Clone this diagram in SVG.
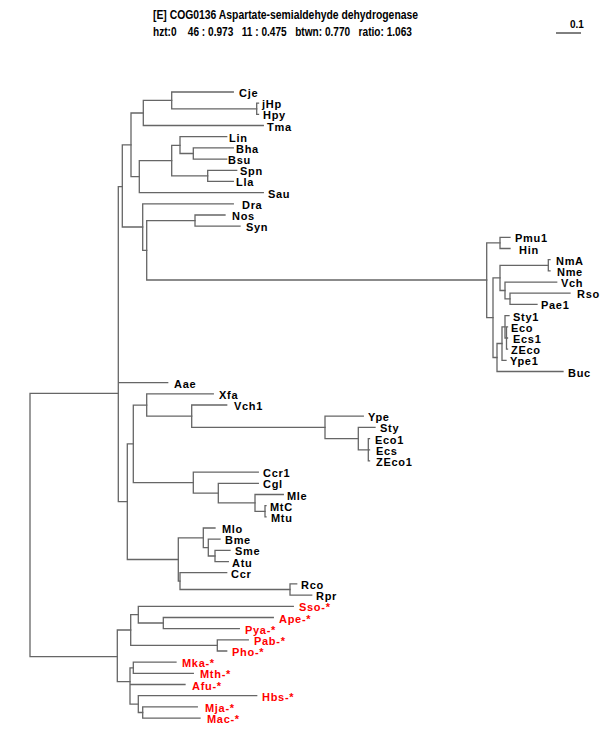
<svg xmlns="http://www.w3.org/2000/svg" width="600" height="750" viewBox="0 0 600 750">
<style>
.e{fill:none;stroke:#666;stroke-width:1.3;stroke-linecap:square}
.t{font-family:"Liberation Sans",Arial,sans-serif;font-weight:bold;font-size:11px;letter-spacing:0.7px;fill:#000}
.r{fill:#ff0000}
.h{font-family:"Liberation Sans",Arial,sans-serif;font-weight:bold;font-size:12.5px;fill:#000}
</style>
<rect width="600" height="750" fill="#fff"/>
<g id="header">
<text class="h" x="153" y="19" textLength="265" lengthAdjust="spacingAndGlyphs">[E] COG0136 Aspartate-semialdehyde dehydrogenase</text>
<text class="h" x="153" y="36" textLength="259" lengthAdjust="spacingAndGlyphs" xml:space="preserve">hzt:0    46 : 0.973   11 : 0.475   btwn: 0.770   ratio: 1.063</text>
</g>
<g id="scale">
<line x1="556" y1="33" x2="581" y2="33" stroke="#000" stroke-width="1"/>
<text class="h" x="570" y="28" style="font-size:10px">0.1</text>
</g>
<g id="connectors" class="e">
<path d="M30,393.3V656.7M30,393.3H118.3M30,656.7H117.3"/>
<path d="M118.3,186.7V501.7M118.3,186.7H122.3M118.3,382.7H167.7M118.3,501.7H127.3"/>
<path d="M122.3,144.8V227M122.3,144.8H131M122.3,227H142.7"/>
<path d="M131,113V176.6M131,113H143.3M131,176.6H139.3"/>
<path d="M143.3,100.4V125.5M143.3,100.4H171.7M143.3,125.5H263.3"/>
<path d="M171.7,92V108.8M171.7,92H233.3M171.7,108.8H256.7"/>
<path d="M256.7,103.2V114.4M256.7,103.2H258.5M256.7,114.4H258.5"/>
<path d="M139.3,160.6V192.6M139.3,160.6H171.7M139.3,192.6H263.3"/>
<path d="M171.7,145.3V175.9M171.7,145.3H180M171.7,175.9H207.7"/>
<path d="M180,136.7V153.5M180,136.7H226.7M180,153.5H193.3"/>
<path d="M193.3,147.9V159.1M193.3,147.9H233.3M193.3,159.1H226.7"/>
<path d="M207.7,170.3V181.4M207.7,170.3H236.7M207.7,181.4H233.3"/>
<path d="M142.7,203.8V250.3M142.7,203.8H233.3M142.7,250.3H146.7"/>
<path d="M146.7,220.6V280M146.7,220.6H195M146.7,280H486.7"/>
<path d="M195,215V226.2M195,215H225M195,226.2H240"/>
<path d="M486.7,242.9V317.7M486.7,242.9H500M486.7,317.7H493"/>
<path d="M500,237.3V248.5M500,237.3H510M500,248.5H510"/>
<path d="M493,277.9V357.5M493,277.9H500M493,357.5H497"/>
<path d="M500,265.3V290.5M500,265.3H548.3M500,290.5H505"/>
<path d="M548.3,259.7V270.9M548.3,259.7H550M548.3,270.9H550"/>
<path d="M505,282.1V298.8M505,282.1H556.7M505,298.8H510"/>
<path d="M510,293.2V304.4M510,293.2H570M510,304.4H537"/>
<path d="M497,343.5V371.5M497,343.5H502M497,371.5H563"/>
<path d="M502,326.8V360.3M502,326.8H505M502,360.3H506"/>
<path d="M505,315.6V338M505,315.6H509M505,338H506.5"/>
<path d="M506.5,326.8V349.1M506.5,326.8H507.5M506.5,338H507.5M506.5,349.1H507.5"/>
<path d="M127.3,443.9V559.5M127.3,443.9H133.3M127.3,559.5H178.3"/>
<path d="M133.3,405.1V482.6M133.3,405.1H146.7M133.3,482.6H193.3"/>
<path d="M146.7,393.9V416.2M146.7,393.9H213.3M146.7,416.2H191.7"/>
<path d="M191.7,405V427.4M191.7,405H226.7M191.7,427.4H325"/>
<path d="M325,416.2V438.6M325,416.2H363.3M325,438.6H358.3"/>
<path d="M358.3,427.4V449.8M358.3,427.4H375M358.3,449.8H368.3"/>
<path d="M368.3,438.6V460.9M368.3,438.6H369.5M368.3,449.8H369.5M368.3,460.9H369.5"/>
<path d="M193.3,472.1V493.1M193.3,472.1H258.3M193.3,493.1H218.3"/>
<path d="M218.3,483.3V502.9M218.3,483.3H258.3M218.3,502.9H255"/>
<path d="M255,494.5V511.3M255,494.5H283.3M255,511.3H265"/>
<path d="M265,505.7V516.8M265,505.7H266M265,516.8H266"/>
<path d="M178.3,537.8V581.1M178.3,537.8H203.3M178.3,581.1H180"/>
<path d="M203.3,528V547.6M203.3,528H215M203.3,547.6H208.3"/>
<path d="M208.3,539.2V556M208.3,539.2H220M208.3,556H215"/>
<path d="M215,550.4V561.6M215,550.4H230M215,561.6H228.3"/>
<path d="M180,572.7V589.5M180,572.7H226.7M180,589.5H290"/>
<path d="M290,583.9V595.1M290,583.9H296.7M290,595.1H311.7"/>
<path d="M117.3,630V681.7M117.3,630H130.7M117.3,681.7H130"/>
<path d="M130.7,614.7V645.4M130.7,614.7H138.3M130.7,645.4H217.3"/>
<path d="M138.3,606.3V623M138.3,606.3H293.3M138.3,623H163.3"/>
<path d="M163.3,617.5V628.6M163.3,617.5H273.3M163.3,628.6H239.3"/>
<path d="M217.3,639.8V651M217.3,639.8H248.3M217.3,651H226.7"/>
<path d="M130,667.8V704.1M130,667.8H133.3M130,684.5H185M130,704.1H138.3"/>
<path d="M133.3,662.2V673.4M133.3,662.2H176M133.3,673.4H193.3"/>
<path d="M138.3,695.7V712.5M138.3,695.7H256.7M138.3,712.5H142.7"/>
<path d="M142.7,706.9V718.1M142.7,706.9H197.3M142.7,718.1H200"/>
</g>
<g id="n-Cje"><text class="t" x="239" y="97">Cje</text></g>
<g id="n-jHp"><text class="t" x="262" y="108.2">jHp</text></g>
<g id="n-Hpy"><text class="t" x="263" y="119.4">Hpy</text></g>
<g id="n-Tma"><text class="t" x="267" y="130.5">Tma</text></g>
<g id="n-Lin"><text class="t" x="229" y="141.7">Lin</text></g>
<g id="n-Bha"><text class="t" x="236" y="152.9">Bha</text></g>
<g id="n-Bsu"><text class="t" x="228" y="164.1">Bsu</text></g>
<g id="n-Spn"><text class="t" x="240" y="175.3">Spn</text></g>
<g id="n-Lla"><text class="t" x="236" y="186.4">Lla</text></g>
<g id="n-Sau"><text class="t" x="268" y="197.6">Sau</text></g>
<g id="n-Dra"><text class="t" x="242" y="208.8">Dra</text></g>
<g id="n-Nos"><text class="t" x="232" y="220">Nos</text></g>
<g id="n-Syn"><text class="t" x="246" y="231.2">Syn</text></g>
<g id="n-Pmu1"><text class="t" x="515" y="242.3">Pmu1</text></g>
<g id="n-Hin"><text class="t" x="519" y="253.5">Hin</text></g>
<g id="n-NmA"><text class="t" x="556" y="264.7">NmA</text></g>
<g id="n-Nme"><text class="t" x="557" y="275.9">Nme</text></g>
<g id="n-Vch"><text class="t" x="561" y="287.1">Vch</text></g>
<g id="n-Rso"><text class="t" x="577" y="298.2">Rso</text></g>
<g id="n-Pae1"><text class="t" x="541" y="309.4">Pae1</text></g>
<g id="n-Sty1"><text class="t" x="513" y="320.6">Sty1</text></g>
<g id="n-Eco"><text class="t" x="511" y="331.8">Eco</text></g>
<g id="n-Ecs1"><text class="t" x="513" y="343">Ecs1</text></g>
<g id="n-ZEco"><text class="t" x="511" y="354.1">ZEco</text></g>
<g id="n-Ype1"><text class="t" x="510" y="365.3">Ype1</text></g>
<g id="n-Buc"><text class="t" x="568" y="376.5">Buc</text></g>
<g id="n-Aae"><text class="t" x="174" y="387.7">Aae</text></g>
<g id="n-Xfa"><text class="t" x="219" y="398.9">Xfa</text></g>
<g id="n-Vch1"><text class="t" x="234" y="410">Vch1</text></g>
<g id="n-Ype"><text class="t" x="368" y="421.2">Ype</text></g>
<g id="n-Sty"><text class="t" x="380" y="432.4">Sty</text></g>
<g id="n-Eco1"><text class="t" x="375" y="443.6">Eco1</text></g>
<g id="n-Ecs"><text class="t" x="376" y="454.8">Ecs</text></g>
<g id="n-ZEco1"><text class="t" x="376" y="465.9">ZEco1</text></g>
<g id="n-Ccr1"><text class="t" x="263" y="477.1">Ccr1</text></g>
<g id="n-Cgl"><text class="t" x="263" y="488.3">Cgl</text></g>
<g id="n-Mle"><text class="t" x="287" y="499.5">Mle</text></g>
<g id="n-MtC"><text class="t" x="270" y="510.7">MtC</text></g>
<g id="n-Mtu"><text class="t" x="271" y="521.8">Mtu</text></g>
<g id="n-Mlo"><text class="t" x="222" y="533">Mlo</text></g>
<g id="n-Bme"><text class="t" x="225" y="544.2">Bme</text></g>
<g id="n-Sme"><text class="t" x="235" y="555.4">Sme</text></g>
<g id="n-Atu"><text class="t" x="232" y="566.6">Atu</text></g>
<g id="n-Ccr"><text class="t" x="231" y="577.7">Ccr</text></g>
<g id="n-Rco"><text class="t" x="301" y="588.9">Rco</text></g>
<g id="n-Rpr"><text class="t" x="316" y="600.1">Rpr</text></g>
<g id="n-Sso"><text class="t r" x="299" y="611.3">Sso-*</text></g>
<g id="n-Ape"><text class="t r" x="279" y="622.5">Ape-*</text></g>
<g id="n-Pya"><text class="t r" x="245" y="633.6">Pya-*</text></g>
<g id="n-Pab"><text class="t r" x="254" y="644.8">Pab-*</text></g>
<g id="n-Pho"><text class="t r" x="232" y="656">Pho-*</text></g>
<g id="n-Mka"><text class="t r" x="182" y="667.2">Mka-*</text></g>
<g id="n-Mth"><text class="t r" x="200" y="678.4">Mth-*</text></g>
<g id="n-Afu"><text class="t r" x="192" y="689.5">Afu-*</text></g>
<g id="n-Hbs"><text class="t r" x="262" y="700.7">Hbs-*</text></g>
<g id="n-Mja"><text class="t r" x="205" y="711.9">Mja-*</text></g>
<g id="n-Mac"><text class="t r" x="207" y="723.1">Mac-*</text></g>
</svg>
